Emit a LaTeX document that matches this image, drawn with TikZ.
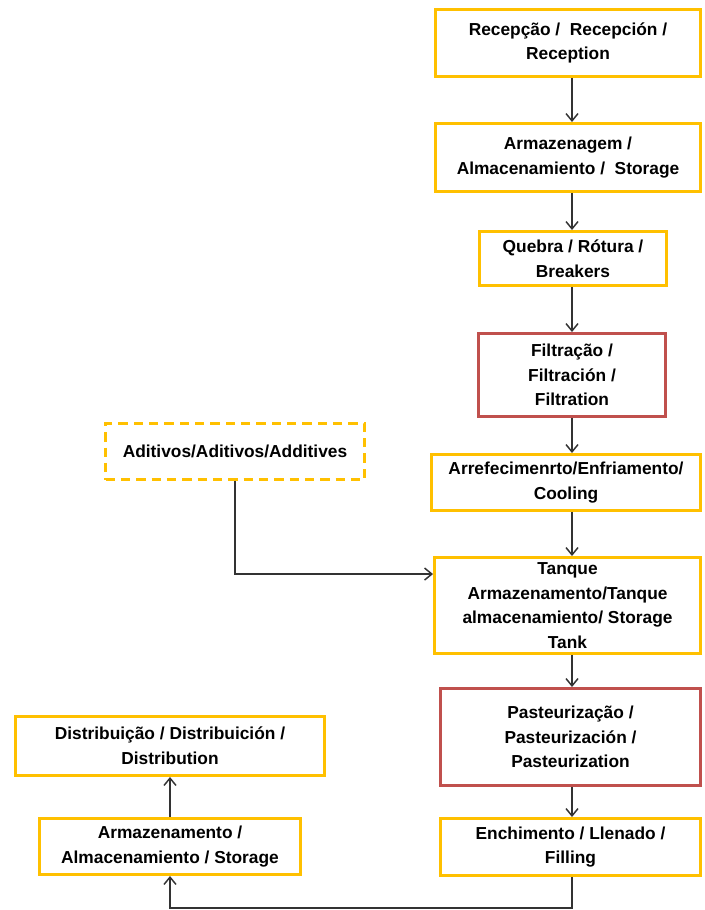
\documentclass[tikz,border=0pt]{standalone}
\usepackage{fontspec}
\setmainfont{Liberation Sans}
\usepackage{tikz}
\usetikzlibrary{arrows.meta}
\definecolor{boxyellow}{HTML}{FFC000}
\definecolor{boxred}{HTML}{C0504D}
\definecolor{linegray}{HTML}{333333}
\newdimen\pxu
\pxu=0.75pt

\begin{document}
\begin{tikzpicture}[x=0.75pt,y=-0.75pt,
    step box/.style={rectangle,draw=boxyellow,line width=2.2pt,align=center,inner sep=0pt,
                     font=\bfseries\fontsize{13}{18.5}\selectfont},
    red box/.style={step box,draw=boxred},
    extra box/.style={step box,dashed,dash pattern=on 7pt off 4.5pt},
    flow/.style={draw=linegray,line width=1.1pt,-{Straight Barb[length=5.5pt,width=9pt]}}]

  \useasboundingbox (0,0) rectangle (704,910);

  \node[step box,minimum width=265\pxu,minimum height=67\pxu] (rec) at (568,43) {Recepção /\ \ Recepción /\\Reception};
  \node[step box,minimum width=265\pxu,minimum height=68\pxu] (arm) at (568,157.5) {Armazenagem /\\Almacenamiento /\ \ Storage};
  \node[step box,minimum width=187\pxu,minimum height=54\pxu] (que) at (573,258.5) {Quebra / Rótura /\\Breakers};
  \node[red box,minimum width=187\pxu,minimum height=83\pxu] (fil) at (572,375) {Filtração /\\Filtración /\\Filtration};
  \node[step box,minimum width=269\pxu,minimum height=56\pxu] (arr) at (566,482.5) {Arrefecimenrto/Enfriamento/\\Cooling};
  \node[step box,minimum width=266\pxu,minimum height=96\pxu] (tan) at (567.5,605.5) {Tanque\\Armazenamento/Tanque\\almacenamiento/ Storage\\Tank};
  \node[red box,minimum width=260\pxu,minimum height=97\pxu] (pas) at (570.5,737) {Pasteurização /\\Pasteurización /\\Pasteurization};
  \node[step box,minimum width=260\pxu,minimum height=57\pxu] (enc) at (570.5,847) {Enchimento / Llenado /\\Filling};
  \node[extra box,minimum width=259\pxu,minimum height=56\pxu] (adi) at (235,451.5) {Aditivos/Aditivos/Additives};
  \node[step box,minimum width=309\pxu,minimum height=59\pxu] (dis) at (170,746) {Distribuição / Distribuición /\\Distribution};
  \node[step box,minimum width=261\pxu,minimum height=56\pxu] (sto) at (170,846.5) {Armazenamento /\\Almacenamiento / Storage};

  % main line
  \draw[flow] (rec.south -| fil) -- (arm.north -| fil);
  \draw[flow] (arm.south -| fil) -- (que.north -| fil);
  \draw[flow] (que.south -| fil) -- (fil.north);
  \draw[flow] (fil.south) -- (arr.north -| fil);
  \draw[flow] (arr.south -| fil) -- (tan.north -| fil);
  \draw[flow] (tan.south -| fil) -- (pas.north -| fil);
  \draw[flow] (pas.south -| fil) -- (enc.north -| fil);
  % additives
  \draw[flow] (adi.south) |- ([yshift=23.6pt]tan.west);
  % back to storage and out
  \draw[flow] (enc.south -| fil) -- ++(0,31) -| (sto.south);
  \draw[flow] (sto.north) -- (dis.south);
\end{tikzpicture}
\end{document}
